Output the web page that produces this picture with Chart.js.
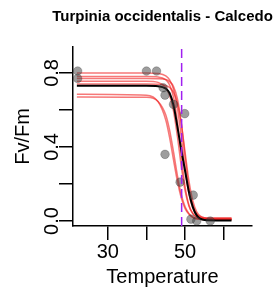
<!DOCTYPE html>
<html>
<head>
<meta charset="utf-8">
<script src="https://cdn.jsdelivr.net/npm/chart.js@4.4.1/dist/chart.umd.min.js"></script>
<style>
  html, body { margin: 0; padding: 0; background: #fff; }
  #wrap { width: 275px; height: 295px; }
</style>
</head>
<body>
<div id="wrap"><canvas id="c" width="275" height="295"></canvas></div>
<script>
// ---- data ----
const chartTitle = "Turpinia occidentalis - Calcedo";
const xTitle = "Temperature";
const yTitle = "Fv/Fm";
const xTicks = [30, 40, 50, 60];
const xTickLabelsShown = [30, 50];
const yTicks = [0, 0.2, 0.4, 0.6, 0.8];
const yTickLabelsShown = [0, 0.4, 0.8];
const xMin = 21, xMax = 67.3;
const yMin = -0.027, yMax = 0.94;

const thresholdTemp = 49.1;

const obsTemp = [22.2, 22.2, 40.0, 42.6, 44.3, 44.8, 47.0, 49.9, 44.8, 48.7, 52.1, 51.5, 53.0, 56.5];
const obsFvFm = [0.81, 0.77, 0.81, 0.81, 0.72, 0.68, 0.63, 0.58, 0.36, 0.21, 0.14, 0.01, 0.0, 0.0];

const curveTemp = [22, 40, 43, 45, 46, 47, 48, 49, 50, 51, 52, 53, 55, 58, 62];
const fitMain = [0.73, 0.73, 0.728, 0.715, 0.69, 0.625, 0.51, 0.385, 0.27, 0.155, 0.075, 0.03, 0.005, 0.003, 0.003];
const boot1 = [0.80, 0.80, 0.797, 0.784, 0.762, 0.712, 0.612, 0.456, 0.28, 0.145, 0.07, 0.035, 0.012, 0.008, 0.008];
const boot2 = [0.78, 0.78, 0.778, 0.763, 0.735, 0.669, 0.538, 0.353, 0.185, 0.085, 0.04, 0.02, 0.012, 0.01, 0.01];
const boot3 = [0.77, 0.77, 0.769, 0.764, 0.753, 0.726, 0.661, 0.531, 0.347, 0.18, 0.085, 0.04, 0.018, 0.016, 0.016];
const boot4 = [0.755, 0.755, 0.749, 0.721, 0.678, 0.594, 0.458, 0.297, 0.163, 0.08, 0.04, 0.022, 0.012, 0.01, 0.01];
const boot5 = [0.74, 0.74, 0.739, 0.732, 0.721, 0.695, 0.637, 0.527, 0.37, 0.215, 0.108, 0.05, 0.018, 0.015, 0.015];
const boot6 = [0.685, 0.68, 0.645, 0.545, 0.449, 0.33, 0.215, 0.125, 0.067, 0.037, 0.02, 0.012, 0.008, 0.006, 0.006];
const boot7 = [0.67, 0.668, 0.646, 0.573, 0.49, 0.373, 0.247, 0.143, 0.077, 0.04, 0.02, 0.012, 0.01, 0.01, 0.01];
const bootCurves = [boot1, boot2, boot3, boot4, boot5, boot6, boot7];

// ---- build datasets ----
const toXY = (xs, ys) => xs.map((x, i) => ({ x: x, y: ys[i] }));
const FONT = "'Liberation Sans', Arial, sans-serif";

const datasets = [];
datasets.push({
  label: 'threshold',
  data: [{ x: thresholdTemp, y: yMin }, { x: thresholdTemp, y: yMax }],
  borderColor: '#a020f0', borderWidth: 1.5, borderDash: [9, 5],
  pointRadius: 0, showLine: true, fill: false
});
datasets.push({
  label: 'obs',
  data: toXY(obsTemp, obsFvFm),
  showLine: false, pointRadius: 4.3, pointHoverRadius: 4.3,
  backgroundColor: 'rgba(60,60,60,0.5)', borderColor: 'rgba(40,40,40,0.25)', borderWidth: 1
});
datasets.push({
  label: 'fit',
  data: toXY(curveTemp, fitMain),
  borderColor: '#000', borderWidth: 2, pointRadius: 0,
  cubicInterpolationMode: 'monotone', fill: false
});
bootCurves.forEach((ys, i) => {
  datasets.push({
    label: 'boot' + (i + 1),
    data: toXY(curveTemp, ys),
    borderColor: 'rgba(240,30,30,0.6)', borderWidth: 1.5, pointRadius: 0,
    cubicInterpolationMode: 'monotone', fill: false
  });
});

const titlePlugin = {
  id: 'rTitle',
  afterDraw(chart) {
    const { ctx, chartArea } = chart;
    ctx.save();
    ctx.font = "bold 15px " + FONT;
    ctx.fillStyle = '#000';
    ctx.textAlign = 'center';
    ctx.textBaseline = 'middle';
    ctx.fillText(chartTitle, (chartArea.left + chartArea.right) / 2, 17);
    ctx.restore();
  }
};

new Chart(document.getElementById('c'), {
  type: 'line',
  data: { datasets: datasets },
  plugins: [titlePlugin],
  options: {
    responsive: false,
    devicePixelRatio: 1,
    animation: false,
    events: [],
    layout: { padding: { top: 47, right: 23, left: 0, bottom: 0 } },
    plugins: { legend: { display: false }, tooltip: { enabled: false }, title: { display: false } },
    scales: {
      x: {
        type: 'linear', min: xMin, max: xMax,
        afterBuildTicks: s => { s.ticks = xTicks.map(v => ({ value: v })); },
        afterFit: s => { s.height = 69; },
        ticks: {
          autoSkip: false, maxRotation: 0, minRotation: 0, padding: 0,
          color: '#000', font: { family: FONT, size: 20 },
          callback: v => xTickLabelsShown.includes(v) ? String(v) : ''
        },
        grid: { drawOnChartArea: false, drawTicks: true, tickLength: 14, color: '#000', lineWidth: 1.5 },
        border: { display: true, color: '#000', width: 1.5 },
        title: { display: true, text: xTitle, color: '#000', font: { family: FONT, size: 20 }, padding: { top: 0, bottom: 6 } }
      },
      y: {
        type: 'linear', min: yMin, max: yMax,
        afterBuildTicks: s => { s.ticks = yTicks.map(v => ({ value: v })); },
        afterFit: s => { s.width = 73; },
        ticks: {
          autoSkip: false, minRotation: 90, maxRotation: 90, crossAlign: 'center', padding: -7,
          color: '#000', font: { family: FONT, size: 20 },
          callback: v => yTickLabelsShown.some(t => Math.abs(t - v) < 1e-9) ? v.toFixed(1) : ''
        },
        grid: { drawOnChartArea: false, drawTicks: true, tickLength: 14, color: '#000', lineWidth: 1.5 },
        border: { display: true, color: '#000', width: 1.5 },
        title: { display: true, text: yTitle, color: '#000', font: { family: FONT, size: 20 }, padding: { top: 11, bottom: 0 } }
      }
    }
  }
});
</script>
</body>
</html>
